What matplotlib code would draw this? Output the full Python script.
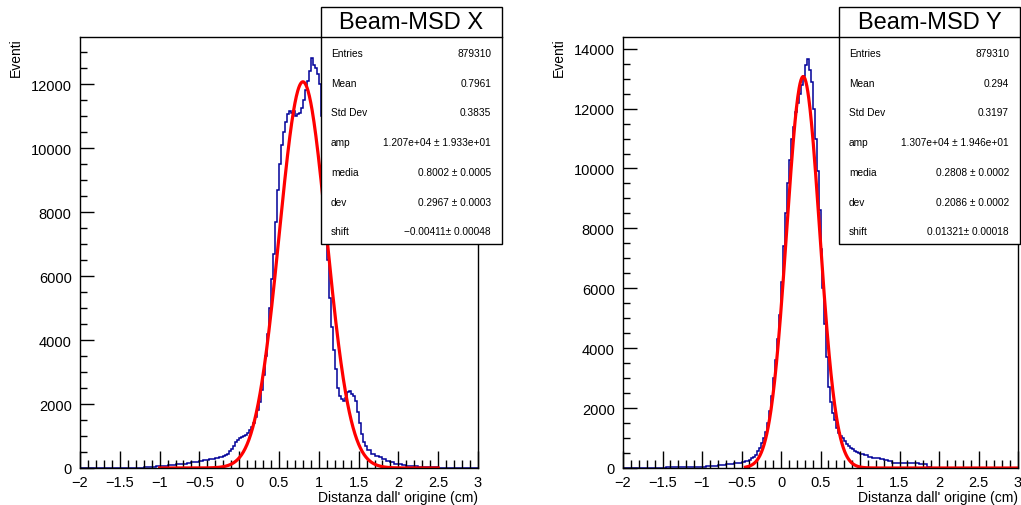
import numpy as np
import matplotlib
matplotlib.use("Agg")
import matplotlib.pyplot as plt
from matplotlib.patches import Rectangle
from matplotlib.ticker import MultipleLocator

plt.rcParams['font.family'] = ['Liberation Sans', 'DejaVu Sans']

# bin edges: 0.05 cm in the tails, 0.025 cm around the peak
edges_x = np.concatenate([np.linspace(-2.0, -0.5, 31)[:-1],
                          np.linspace(-0.5, 1.6, 85)[:-1],
                          np.linspace(1.6, 3.0, 29)])
edges_y = np.concatenate([np.linspace(-2.0, -0.5, 31)[:-1],
                          np.linspace(-0.5, 1.0, 61)[:-1],
                          np.linspace(1.0, 3.0, 41)])

counts_x = [
    # -2.0 .. -0.5
    0, 0, 0, 0, 0, 2, 3, 3, 4, 5, 5, 5, 8, 10, 12, 15, 25, 35, 45, 55,
    60, 75, 90, 105, 115, 125, 140, 155, 175, 190,
    # -0.5 .. 1.6
    215, 225, 245, 255, 265, 275, 285, 295, 310, 325,
    340, 355, 380, 410, 450, 520, 590, 680, 820, 880,
    930, 960, 990, 1030, 1100, 1180, 1280, 1420, 1600, 1800,
    2050, 2450, 2900, 3500, 4200, 5000, 5900, 6700, 7700, 8700,
    9500, 10100, 10500, 10800, 11050, 11150, 11100, 11150, 11000, 11050,
    11100, 11250, 11500, 11800, 12100, 12400, 12800, 12600, 12500, 12300,
    12000, 11000, 9600, 8000, 6500, 5300, 4400, 3700, 3100, 2500,
    2250, 2150, 2100, 2200, 2380, 2400, 2300, 2250, 2100, 1750,
    1400, 1050, 800, 680,
    # 1.6 .. 3.0
    560, 450, 390, 330, 270, 230, 180, 140, 110, 90,
    75, 65, 55, 45, 40, 35, 30, 25, 15, 10,
    5, 5, 3, 3, 2, 2, 1, 1,
]

counts_y = [
    # -2.0 .. -0.5
    3, 4, 5, 5, 6, 7, 8, 9, 10, 12, 15, 18, 20, 25, 28, 30, 35, 38, 42, 45,
    50, 55, 65, 75, 90, 105, 120, 140, 160, 180,
    # -0.5 .. 1.0
    200, 210, 230, 250, 280, 320, 380, 450, 560, 680,
    830, 1000, 1200, 1500, 1900, 2400, 3000, 3600, 4300, 5100,
    6200, 7400, 8500, 9500, 10300, 11000, 11400, 11900, 12200, 12500,
    12800, 13100, 13450, 13650, 13300, 12900, 12000, 11000, 9900, 8600,
    7300, 6000, 4800, 3700, 2700, 2200, 1850, 1600, 1350, 1180,
    1080, 1000, 900, 800, 720, 660, 620, 580, 540, 500,
    # 1.0 .. 3.0
    470, 420, 380, 350, 320, 290, 260, 220, 180, 170,
    165, 165, 160, 160, 155, 150, 150, 40, 10, 5,
    3, 2, 2, 1, 1, 1, 0, 0, 0, 0,
    0, 0, 0, 0, 0, 0, 0, 0, 0, 0,
]

# fit parameters
fit_x = dict(amp=1.207e4, media=0.8002, dev=0.2967, shift=-0.00411)
fit_y = dict(amp=1.307e4, media=0.2808, dev=0.2086, shift=0.01321)
fit_range_x = (-1.0, 2.5)
fit_range_y = (-0.45, 3.0)

stats_x = [("Entries", "879310"), ("Mean", "0.7961"), ("Std Dev", "0.3835"),
           ("amp", "1.207e+04 \u00b1 1.933e+01"), ("media", "0.8002 \u00b1 0.0005"),
           ("dev", "0.2967 \u00b1 0.0003"), ("shift", "\u22120.00411\u00b1 0.00048")]
stats_y = [("Entries", "879310"), ("Mean", "0.294"), ("Std Dev", "0.3197"),
           ("amp", "1.307e+04 \u00b1 1.946e+01"), ("media", "0.2808 \u00b1 0.0002"),
           ("dev", "0.2086 \u00b1 0.0002"), ("shift", "0.01321\u00b1 0.00018")]

W, H = 1021, 506
fig = plt.figure(figsize=(W / 100, H / 100), dpi=100)


def gaus(x, p):
    return p["amp"] * np.exp(-0.5 * ((x - p["media"]) / p["dev"]) ** 2) + p["shift"]


def panel(x0, x1, edges, counts, fit, frange, ymax, title, stats, box):
    ax = fig.add_axes([x0 / W, 1 - 469 / H, (x1 - x0) / W, (469 - 38) / H])
    ax.stairs(counts, edges, color="#000099", lw=1.1)
    xf = np.linspace(frange[0], frange[1], 600)
    ax.plot(xf, gaus(xf, fit), color="#ff0000", lw=2.3)
    ax.set_xlim(-2, 3)
    ax.set_ylim(0, ymax)
    ax.xaxis.set_minor_locator(MultipleLocator(0.1))
    ax.yaxis.set_major_locator(MultipleLocator(2000))
    ax.yaxis.set_minor_locator(MultipleLocator(500))
    ax.tick_params(which="both", direction="in", top=False, right=False, labelsize=10.5)
    ax.tick_params(axis="x", which="major", length=12, width=1, pad=5)
    ax.tick_params(axis="x", which="minor", length=6, width=1)
    ax.tick_params(axis="y", which="major", length=10, width=1, pad=6)
    ax.tick_params(axis="y", which="minor", length=5, width=1)
    ax.set_xticks(np.arange(-2, 3.01, 0.5))
    ax.set_xticklabels(["\u22122", "\u22121.5", "\u22121", "\u22120.5", "0", "0.5",
                        "1", "1.5", "2", "2.5", "3"])
    ax.set_xlabel("Distanza dall' origine (cm)", loc="right", fontsize=10, labelpad=1)
    ax.set_ylabel("Eventi", loc="top", fontsize=10)
    ax.yaxis.set_label_coords(-57 / (x1 - x0), 1.0)
    for s in ax.spines.values():
        s.set_linewidth(1)

    bx0, bx1, by0, by1 = box
    fig.add_artist(Rectangle((bx0 / W, 1 - by1 / H), (bx1 - bx0) / W, (by1 - by0) / H,
                             facecolor="white", edgecolor="black", lw=1, zorder=5))
    fig.add_artist(plt.Line2D([bx0 / W, bx1 / W], [1 - 38 / H, 1 - 38 / H],
                              color="black", lw=1, zorder=6))
    fig.text((bx0 + bx1) / 2 / W, 1 - 23 / H, title, ha="center", va="center",
             fontsize=17, zorder=7)
    for i, (k, v) in enumerate(stats):
        yy = 1 - (54 + i * 29.7) / H
        fig.text((bx0 + 10) / W, yy, k, ha="left", va="center", fontsize=7.3, zorder=7)
        fig.text((bx1 - 11) / W, yy, v, ha="right", va="center", fontsize=7.3, zorder=7)
    return ax


panel(80, 478, edges_x, counts_x, fit_x, fit_range_x, 13470, "Beam-MSD X", stats_x,
      (321, 502, 8, 245))
panel(623, 1018, edges_y, counts_y, fit_y, fit_range_y, 14390, "Beam-MSD Y", stats_y,
      (839, 1020, 8, 245))

fig.savefig("out.png", dpi=100)
